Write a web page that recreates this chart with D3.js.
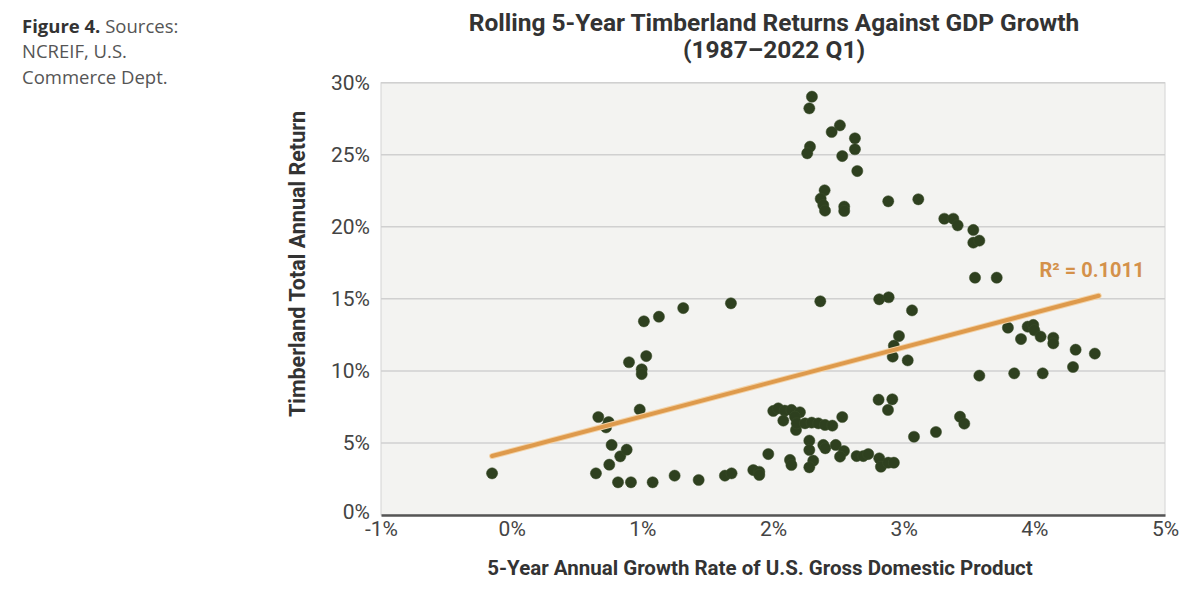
<!DOCTYPE html>
<html><head><meta charset="utf-8">
<script src="https://cdn.jsdelivr.net/npm/d3@7"></script>
<style>
body{margin:0;background:#fff;}
svg{display:block;}
</style></head>
<body><svg id="chart" width="1200" height="590"></svg>
<script>
// GDP 5-yr annual growth rate (%) and timberland total annual return (%)
const gdpGrowth = [-0.15,0.645,0.814,0.913,1.079,1.247,1.431,0.747,0.831,0.88,0.765,0.663,0.742,0.722,0.98,0.898,1.03,0.995,0.995,1.012,1.127,1.313,
2.298,2.278,2.512,2.449,2.627,2.627,2.283,2.262,2.53,2.645,2.395,2.365,2.385,2.398,2.545,2.545,2.882,3.112,
1.678,2.362,2.813,2.885,3.064,3.311,3.38,3.413,3.533,3.533,3.579,3.546,3.712,2.964,2.925,2.916,3.031,
3.798,3.898,3.949,3.992,4.0,4.048,4.145,4.145,4.316,4.463,3.579,3.846,4.064,4.296,
2.808,2.913,2.88,3.431,3.464,3.079,3.247,2.53,2.002,2.04,2.09,2.141,2.206,2.079,2.168,2.176,2.181,2.245,2.296,2.347,2.398,2.454,
2.278,2.278,2.385,2.4,2.48,2.543,2.513,2.64,2.691,2.729,2.813,2.826,2.882,2.925,1.964,2.13,2.141,2.308,2.278,1.632,1.683,1.849,1.895,1.895];
const timberReturn = [2.89,2.89,2.27,2.27,2.27,2.73,2.43,3.49,4.07,4.53,4.86,6.8,6.45,6.08,7.31,10.6,11.03,10.11,9.78,13.44,13.76,14.36,
29.03,28.22,27.04,26.58,26.14,25.38,25.56,25.1,24.91,23.87,22.53,21.95,21.51,21.12,21.4,21.1,21.77,21.91,
14.69,14.83,14.97,15.11,14.2,20.56,20.56,20.1,19.78,18.9,19.04,16.47,16.47,12.42,11.75,10.99,10.73,
13.0,12.21,13.07,13.19,12.82,12.38,12.3,11.91,11.47,11.2,9.67,9.83,9.83,10.27,
8.0,8.03,7.29,6.82,6.34,5.43,5.76,6.8,7.22,7.4,7.24,7.29,7.13,6.55,6.82,5.9,6.36,6.36,6.41,6.36,6.25,6.2,
5.16,4.51,4.86,4.63,4.86,4.44,4.05,4.09,4.09,4.23,3.93,3.35,3.63,3.63,4.23,3.82,3.47,3.77,3.31,2.73,2.89,3.12,3.0,2.78];
const xTicks = [-1,0,1,2,3,4,5];
const yTicks = [0,5,10,15,20,25,30];
const trendSlope = 2.396, trendIntercept = 4.45;
const rSquaredLabel = "R\u00B2 = 0.1011";
const titleLines = ["Rolling 5-Year Timberland Returns Against GDP Growth","(1987\u20132022 Q1)"];
const xTitle = "5-Year Annual Growth Rate of U.S. Gross Domestic Product";
const yTitle = "Timberland Total Annual Return";

const svg = d3.select("#chart");
const L = 381, R = 1165, T = 82.7, B = 515;
const x = d3.scaleLinear().domain([-1,5]).range([L,R]);
const y = d3.scaleLinear().domain([0,30]).range([B,T]);

// caption
const cap = svg.append("text").attr("font-family","'Open Sans', 'Noto Sans', sans-serif").attr("font-size",18.5).attr("fill","#555");
cap.append("tspan").attr("x",22).attr("y",33).attr("font-weight","bold").attr("fill","#333").text("Figure 4.");
cap.append("tspan").text(" Sources:");
cap.append("tspan").attr("x",22).attr("y",58).text("NCREIF, U.S.");
cap.append("tspan").attr("x",22).attr("y",84).text("Commerce Dept.");

// plot background
svg.append("rect").attr("x",L).attr("y",T).attr("width",R-L).attr("height",B-T).attr("fill","#f3f3f1").attr("stroke","#d4d4d4").attr("stroke-width",1);

// gridlines
svg.append("g").selectAll("line").data(yTicks.filter(d=>d>0)).join("line")
  .attr("x1",L).attr("x2",R).attr("y1",d=>y(d)).attr("y2",d=>y(d))
  .attr("stroke","#d0d0d0").attr("stroke-width",1.5);

// y axis labels
const yAxis = svg.append("g").attr("transform",`translate(${L},0)`)
  .call(d3.axisLeft(y).tickValues(yTicks).tickFormat(d=>d+"%").tickSize(0).tickPadding(11));
yAxis.select(".domain").remove();
yAxis.selectAll("text").attr("font-family","Roboto, sans-serif").attr("font-size",21).attr("fill","#444");
yAxis.selectAll(".tick").filter(d=>d===0).select("text").attr("dy","0.15em");

// x axis
const xAxis = svg.append("g").attr("transform",`translate(0,${B})`)
  .call(d3.axisBottom(x).tickValues(xTicks).tickFormat(d=>d+"%").tickSize(0).tickPadding(6));
xAxis.select(".domain").attr("stroke","#555").attr("stroke-width",2.5);
xAxis.selectAll("text").attr("font-family","Roboto, sans-serif").attr("font-size",21).attr("fill","#444");

// points
const pts = gdpGrowth.map((g,i)=>({g, r: timberReturn[i]}));
svg.append("g").selectAll("circle").data(pts).join("circle")
  .attr("cx",d=>x(d.g)).attr("cy",d=>y(d.r)).attr("r",5.6)
  .attr("fill","#2e401f").attr("stroke","#3a4d2b").attr("stroke-width",0.5);

// trendline
const xmin = d3.min(gdpGrowth), xmax = d3.max(gdpGrowth) + 0.03;
svg.append("line")
  .attr("x1",x(xmin)).attr("y1",y(trendSlope*xmin+trendIntercept))
  .attr("x2",x(xmax)).attr("y2",y(trendSlope*xmax+trendIntercept))
  .attr("stroke","#f3d2a6").attr("stroke-width",6).attr("stroke-linecap","round");
svg.append("line")
  .attr("x1",x(xmin)).attr("y1",y(trendSlope*xmin+trendIntercept))
  .attr("x2",x(xmax)).attr("y2",y(trendSlope*xmax+trendIntercept))
  .attr("stroke","#de9a4c").attr("stroke-width",4).attr("stroke-linecap","round");

svg.append("text").attr("x",x(4.04)).attr("y",y(16.5)).attr("font-family","Roboto, sans-serif")
  .attr("font-weight","bold").attr("font-size",20).attr("fill","#d4914a").text(rSquaredLabel);

// title
svg.append("g").selectAll("text").data(titleLines).join("text")
  .attr("x",774).attr("y",(d,i)=>31+i*27).attr("text-anchor","middle")
  .attr("font-family","Roboto, sans-serif").attr("font-weight","bold").attr("font-size",24.5).attr("fill","#333")
  .text(d=>d);

// axis titles
svg.append("text").attr("x",760).attr("y",575).attr("text-anchor","middle")
  .attr("font-family","Roboto, sans-serif").attr("font-weight","bold").attr("font-size",20.5).attr("fill","#333").text(xTitle);
svg.append("text").attr("transform",`translate(305,264) rotate(-90)`).attr("text-anchor","middle")
  .attr("font-family","Roboto, sans-serif").attr("font-weight","bold").attr("font-size",21.5).attr("fill","#333").text(yTitle);
</script></body></html>
